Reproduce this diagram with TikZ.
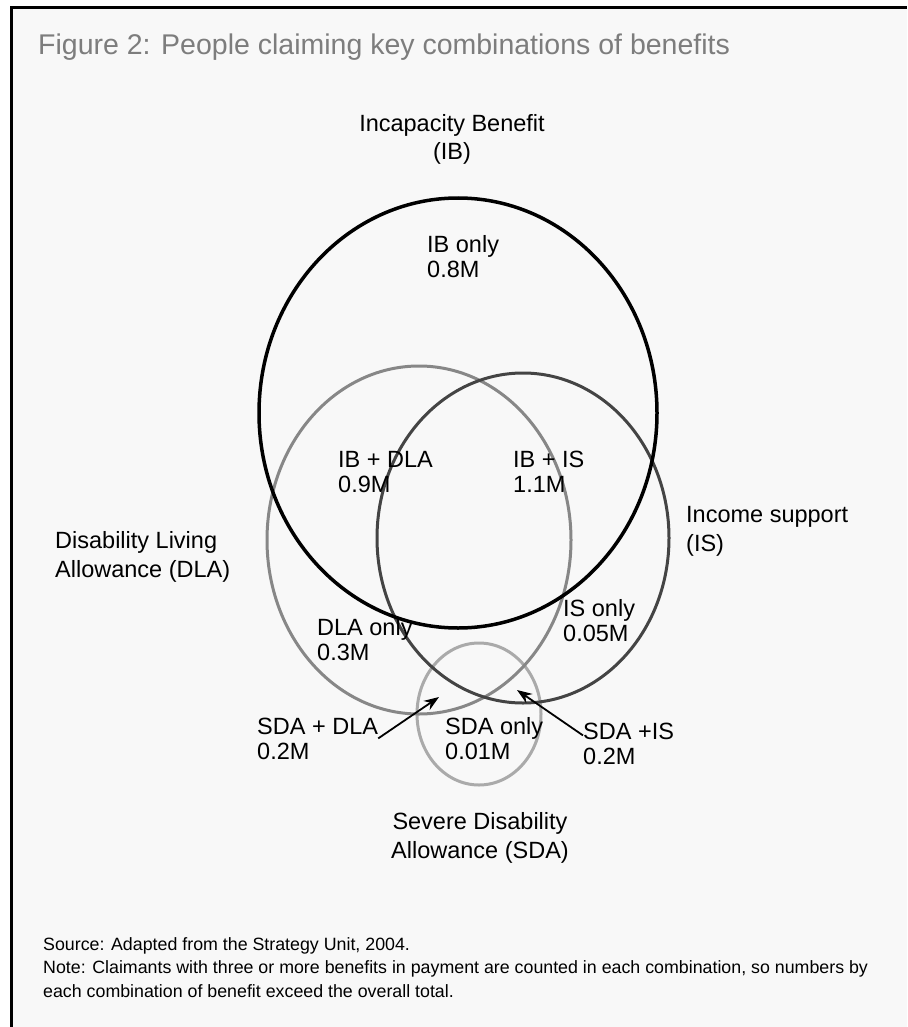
\documentclass[tikz,border=0pt]{standalone}
\usepackage{fontspec}
\setmainfont{Liberation Sans}
\usetikzlibrary{arrows.meta}
\definecolor{titlegrey}{RGB}{125,125,125}
\definecolor{panelgrey}{RGB}{248,248,248}
\definecolor{ibline}{RGB}{0,0,0}
\definecolor{dlaline}{RGB}{135,135,135}
\definecolor{isline}{RGB}{68,68,68}
\definecolor{sdaline}{RGB}{170,170,170}
\tikzset{
  region/.style={font=\fontsize{23.5}{25}\selectfont, align=left, inner sep=0pt, anchor=base west},
  setname/.style={font=\fontsize{23.5}{28.5}\selectfont, inner sep=0pt, anchor=base},
  notes/.style={font=\fontsize{17.8}{23.5}\selectfont, align=left, inner sep=0pt, anchor=base west},
  pointer/.style={-{Stealth[length=15pt,width=11pt]}, line width=1.8pt},
}

\begin{document}
\begin{tikzpicture}[x=1pt,y=-1pt]
    \useasboundingbox (0,0) rectangle (907,1027);
    % panel and frame
    \fill[white] (0,0) rectangle (907,1027);
    \fill[panelgrey] (11,8) rectangle (907,1027);
    \draw[line width=3pt] (11,1027) -- (11,8) -- (907,8);
    \node[font=\fontsize{28.5}{32}\selectfont, text=titlegrey, anchor=base west, inner sep=0pt] (title) at (38,55) {Figure 2: People claiming key combinations of benefits};

    % the four benefit sets
    \draw[sdaline, line width=3pt] (479,714) ellipse [x radius=62, y radius=71];
    \draw[dlaline, line width=3pt] (419,540) ellipse [x radius=152, y radius=174];
    \draw[isline, line width=3pt] (523,538) ellipse [x radius=146, y radius=165];
    \draw[ibline, line width=3.5pt] (458,413) ellipse [x radius=199, y radius=215];

    % set names (base = last line)
    \node[setname, align=center] (ibname) at (452,160) {Incapacity Benefit\\(IB)};
    \node[setname, align=left, anchor=base west] (dlaname) at (55,577) {Disability Living\\Allowance (DLA)};
    \node[setname, align=left, anchor=base west] (isname) at (686,551) {Income support\\(IS)};
    \node[setname, align=center] (sdaname) at (480,858) {Severe Disability\\Allowance (SDA)};

    % regions
    \node[region] (ibonly) at (427,277) {IB only\\0.8M};
    \node[region] (ibdla) at (338,492) {IB + DLA\\0.9M};
    \node[region] (ibis) at (513,492) {IB + IS\\1.1M};
    \node[region] (dlaonly) at (317,660) {DLA only\\0.3M};
    \node[region] (isonly) at (563,641) {IS only\\0.05M};
    \node[region] (sdadla) at (257,759) {SDA + DLA\\0.2M};
    \node[region] (sdaonly) at (445,759) {SDA only\\0.01M};
    \node[region] (sdais) at (583,764) {SDA +IS\\0.2M};

    % pointers into the small overlaps
    \coordinate (dlatip) at (439,697);
    \coordinate (istip) at (517,690);
    \draw[pointer] (sdadla.east) -- (dlatip);
    \draw[pointer] ([yshift=8pt]sdais.west) -- (istip);

    % source and note
    \node[notes] (source) at (43,997) {Source: Adapted from the Strategy Unit, 2004.\\Note: Claimants with three or more benefits in payment are counted in each combination, so numbers by\\each combination of benefit exceed the overall total.};
\end{tikzpicture}
\end{document}
